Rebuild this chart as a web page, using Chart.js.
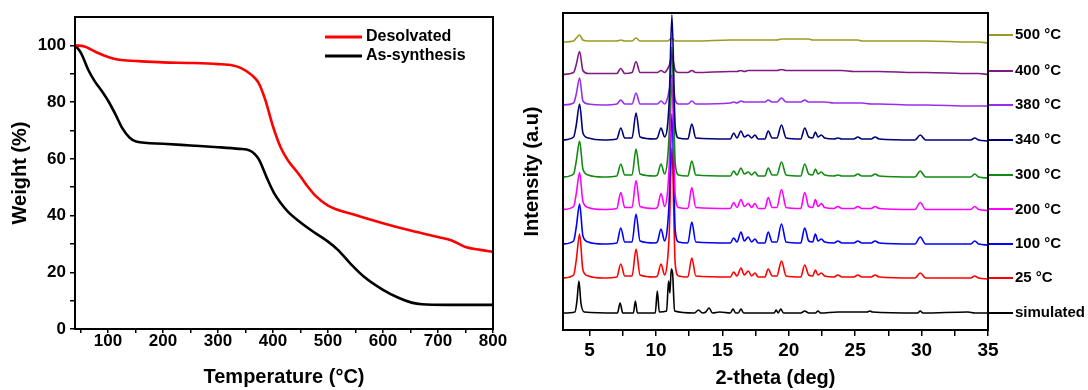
<!DOCTYPE html>
<html>
<head>
<meta charset="utf-8">
<script src="https://cdn.jsdelivr.net/npm/chart.js@4.4.1/dist/chart.umd.min.js"></script>
<style>
  html, body { margin: 0; padding: 0; background: #fff; }
  #wrap { position: relative; width: 1088px; height: 390px; }
  #tgaBox { position: absolute; left: 0; top: 0; width: 520px; height: 390px; }
  #xrdBox { position: absolute; left: 520px; top: 0; width: 568px; height: 390px; }
</style>
</head>
<body>
<div id="wrap">
  <div id="tgaBox"><canvas id="tgaChart"></canvas></div>
  <div id="xrdBox"><canvas id="xrdChart"></canvas></div>
</div>
<script>
// ---- TGA data (left panel) ----
const desolvTemp   = [40, 57, 82, 100, 120, 151, 200, 250, 300, 327, 342, 361, 374, 386, 400, 414, 427, 446, 460, 477, 500, 550, 600, 652, 700, 725, 750, 777, 800];
const desolvWeight = [100, 99.6, 97.3, 95.9, 94.9, 94.5, 94.0, 93.8, 93.4, 92.9, 92.0, 89.6, 86.7, 80.8, 71.4, 64, 59.5, 54.8, 51, 47, 43.5, 40.2, 37.3, 34.6, 32.4, 31.2, 28.9, 27.9, 27.2];
const asSynTemp    = [40, 51, 64, 76, 89, 101, 114, 126, 139, 151, 200, 250, 300, 339, 358, 374, 389, 402, 414, 427, 446, 477, 500, 518, 540, 565, 600, 627, 652, 671, 715, 800];
const asSynWeight  = [100, 97.3, 91.4, 87.3, 83.8, 80.2, 75.5, 70.8, 67.5, 66.1, 65.3, 64.7, 64.1, 63.5, 62.9, 59.9, 53.2, 47.9, 44.4, 41.4, 38.2, 33.8, 30.8, 27.9, 23.2, 18.5, 13.8, 11.1, 9.3, 8.7, 8.5, 8.5];
const tempTicks    = [50, 100, 150, 200, 250, 300, 350, 400, 450, 500, 550, 600, 650, 700, 750, 800];
const weightTicks  = [0, 10, 20, 30, 40, 50, 60, 70, 80, 90, 100];

// ---- PXRD data (right panel), listed bottom to top ----
const xrdNames   = ['simulated', '25 °C', '100 °C', '200 °C', '300 °C', '340 °C', '380 °C', '400 °C', '500 °C'];
const xrdColors  = ['#000000', '#ff0000', '#0000ff', '#ff00ff', '#108a10', '#00007a', '#9a2cf0', '#801a80', '#9a9a22'];
const xrdOffsets = [0, 35, 69, 103.5, 138, 173, 208, 242.5, 278];
const thetaTicks = [5, 7.5, 10, 12.5, 15, 17.5, 20, 22.5, 25, 27.5, 30, 32.5, 35];

const simTheta = [3.0, 3.9, 4.05, 4.2, 4.35, 4.6, 7.1, 7.3, 7.5, 8.3, 8.45, 8.6, 9.95, 10.1, 10.25, 10.8, 10.95, 11.05, 11.15, 11.25, 11.4,
  12.9, 13.2, 13.5, 13.75, 14.0, 14.25, 14.8, 15.6, 15.8, 16.0, 16.2, 16.4, 16.6, 18.9, 19.05, 19.2, 19.4, 19.6,
  20.9, 21.2, 21.5, 22.0, 22.2, 22.4, 23.7, 25.9, 26.1, 26.3, 29.7, 29.9, 30.1, 33.5, 34.0, 35.0];
const simulated = [0, 1, 12, 32, 10, 1, 0, 10, 0, 0, 12, 0, 0, 22, 1, 2, 32, 20, 44, 40, 2,
  0, 3, 0, 1, 5, 0, 1, 0, 4, 0, 0, 4, 0, 0, 3, 0, 4, 0,
  0, 2, 0, 0, 2, 0, 1, 1, 2, 1, 0, 2, 0, 1, 0, 0];

const expTheta = [3.0, 3.8, 4.0, 4.25, 4.5, 4.9, 6.0,
  7.05, 7.35, 7.65, 8.2, 8.5, 8.8,
  9.9, 10.1, 10.38, 10.65, 10.85, 11.0, 11.2, 11.45, 11.7,
  12.4, 12.7, 13.0,
  15.6, 15.85, 16.1, 16.4, 16.65, 16.95, 17.2, 17.45, 17.7,
  18.2, 18.45, 18.75, 19.1, 19.45, 19.8,
  20.9, 21.2, 21.5, 21.8, 22.0, 22.2, 22.45, 22.7,
  23.4, 23.7, 24.0, 24.9, 25.2, 25.5, 26.2, 26.5, 26.8,
  29.5, 29.9, 30.3, 33.7, 34.0, 34.3, 35.0];
const t25 = [0, 3, 18, 44, 8, 2, 0,
  1, 14, 2, 2, 29, 3,
  1, 2, 14, 3, 15, 45, 130, 14, 2,
  1, 20, 2,
  1, 6, 2, 10, 3, 7, 2, 5, 1,
  1, 9, 2, 2, 17, 2,
  1, 13, 3, 2, 8, 3, 5, 2,
  1, 3, 1, 1, 3, 1, 1, 3, 1,
  0, 5, 0, 0, 2, 0, -1];
const t100 = [0, 3, 17, 40, 8, 2, 0,
  1, 16, 2, 2, 30, 3,
  1, 2, 15, 3, 15, 45, 130, 14, 2,
  1, 22, 2,
  1, 6, 2, 12, 3, 7, 2, 5, 1,
  1, 12, 2, 2, 20, 2,
  1, 16, 3, 2, 10, 3, 5, 2,
  1, 3, 1, 1, 3, 1, 1, 3, 1,
  0, 7, 0, 0, 3, 0, -1];
const t200 = [0, 3, 16, 37, 8, 2, 0,
  1, 17, 2, 2, 29, 3,
  1, 2, 16, 3, 15, 45, 130, 14, 2,
  1, 22, 2,
  1, 7, 2, 10, 3, 6, 2, 6, 1,
  1, 12, 2, 2, 20, 2,
  1, 17, 3, 2, 10, 3, 6, 2,
  1, 3, 1, 1, 3, 1, 1, 3, 1,
  0, 7, 0, 0, 3, 0, -1];
const t300 = [-2, 1, 14, 34, 6, 0, -2,
  -1, 11, 0, 0, 26, 1,
  -1, 0, 11, 1, 13, 43, 128, 12, 0,
  -1, 14, 0,
  -1, 4, 0, 7, 1, 3, 0, 3, -1,
  -1, 7, 0, 0, 13, 0,
  -1, 11, 1, 0, 6, 1, 3, 0,
  -1, 0, -1, -1, 1, -1, -1, 1, -1,
  -2, 4, -2, -2, 1, -2, -3];
const t340 = [0, 3, 15, 36, 7, 2, 0,
  1, 12, 2, 2, 27, 3,
  1, 2, 12, 3, 12, 40, 125, 13, 2,
  1, 16, 2,
  1, 7, 2, 9, 3, 5, 2, 5, 1,
  1, 9, 2, 2, 15, 2,
  1, 12, 3, 2, 8, 3, 5, 2,
  1, 2, 1, 1, 3, 1, 1, 3, 1,
  0, 5, 0, 0, 2, 0, -1];
const t380 = [0, 2, 11, 27, 4, 1, 0,
  1, 5, 1, 1, 12, 1,
  1, 1, 4, 1, 6, 15, 30, 5, 1,
  1, 4, 1,
  2, 3, 2, 4, 3, 3, 3, 3, 3,
  3, 5, 3, 3, 7, 3,
  3, 5, 3, 3, 3, 3, 3, 3,
  2, 2, 2, 2, 2, 2, 1, 1, 1,
  0, 0, 0, -1, -1, -1, -1];
const t400 = [-4, -2, 6, 19, 0, -3, -3,
  -3, 2, -3, -2, 9, -2,
  -2, -2, 0, -2, 1, 5, 15, 0, -2,
  -2, 0, -2,
  -1, -1, -1, 0, -1, 0, 0, 0, 0,
  0, 0, 0, 0, 1, 0,
  0, 0, 0, 0, 0, 0, 0, 0,
  0, 0, 0, -1, -1, -1, -1, -1, -1,
  -2, -2, -2, -3, -3, -3, -4];
const t500 = [-7, -6, -3, 0, -5, -6, -6,
  -6, -5, -6, -6, -3, -6,
  -6, -6, -6, -6, -6, -5, -3, -6, -6,
  -6, -6, -6,
  -5, -5, -5, -5, -5, -5, -5, -5, -5,
  -5, -5, -5, -5, -4, -4,
  -4, -4, -4, -5, -5, -5, -5, -5,
  -5, -5, -5, -5, -5, -6, -6, -6, -6,
  -6, -6, -6, -7, -7, -7, -8];
const xrdValues = [simulated, t25, t100, t200, t300, t340, t380, t400, t500];

Chart.defaults.font.family = '"Liberation Sans", Arial, sans-serif';
Chart.defaults.font.weight = 'bold';
Chart.defaults.color = '#000';

// khung chữ nhật quanh vùng vẽ
const framePlugin = {
  id: 'frame',
  afterDraw(chart) {
    const { ctx, chartArea: a } = chart;
    ctx.save();
    ctx.strokeStyle = '#000';
    ctx.lineWidth = 2;
    ctx.strokeRect(a.left, a.top, a.right - a.left, a.bottom - a.top);
    ctx.restore();
  }
};

// chú thích nằm trong vùng vẽ (góc trên phải)
const tgaLegend = {
  id: 'tgaLegend',
  afterDatasetsDraw(chart) {
    const ctx = chart.ctx;
    chart.data.datasets.forEach((ds, i) => {
      const y = 37 + i * 19;
      ctx.save();
      ctx.strokeStyle = ds.borderColor;
      ctx.lineWidth = 3;
      ctx.beginPath();
      ctx.moveTo(325, y);
      ctx.lineTo(362, y);
      ctx.stroke();
      ctx.fillStyle = '#000';
      ctx.font = 'bold 16px "Liberation Sans", Arial, sans-serif';
      ctx.textBaseline = 'middle';
      ctx.fillText(ds.label, 366, y);
      ctx.restore();
    });
  }
};

function toPoints(xs, ys, shift) {
  return xs.map((x, i) => ({ x: x, y: ys[i] + (shift || 0) }));
}

function tickAxis(size) {
  return { font: { size: size, weight: 'bold' }, color: '#000', autoSkip: false, maxRotation: 0 };
}

// ---- biểu đồ TGA ----
new Chart(document.getElementById('tgaChart'), {
  type: 'line',
  data: {
    datasets: [
      { label: 'Desolvated', data: toPoints(desolvTemp, desolvWeight), borderColor: '#ff0000', borderWidth: 2.6, pointRadius: 0, cubicInterpolationMode: 'monotone' },
      { label: 'As-synthesis', data: toPoints(asSynTemp, asSynWeight), borderColor: '#000000', borderWidth: 2.6, pointRadius: 0, cubicInterpolationMode: 'monotone' }
    ]
  },
  options: {
    responsive: true,
    maintainAspectRatio: false,
    animation: false,
    layout: { padding: { top: 17, right: 27, left: 0, bottom: 0 } },
    plugins: { legend: { display: false }, tooltip: { enabled: false } },
    scales: {
      x: {
        type: 'linear', min: 40, max: 800,
        afterBuildTicks: s => { s.ticks = tempTicks.map(v => ({ value: v })); },
        ticks: Object.assign(tickAxis(17), { padding: -2, callback: v => (v % 100 === 0 ? v : '') }),
        grid: { drawOnChartArea: false, tickLength: 4, color: '#000', lineWidth: 1.5 },
        border: { color: '#000', width: 2 },
        title: { display: true, text: 'Temperature (°C)', font: { size: 20, weight: 'bold' }, color: '#000', padding: { top: 0, bottom: 1 } },
        afterFit: s => { s.height = 61; }
      },
      y: {
        min: 0, max: 110,
        afterBuildTicks: s => { s.ticks = weightTicks.map(v => ({ value: v })); },
        ticks: Object.assign(tickAxis(17), { padding: 4, callback: v => (v % 20 === 0 ? v : '') }),
        grid: { drawOnChartArea: false, tickLength: 5, color: '#000', lineWidth: 1.5 },
        border: { color: '#000', width: 2 },
        title: { display: true, text: 'Weight (%)', font: { size: 20, weight: 'bold' }, color: '#000', padding: { top: 8, bottom: 0 } },
        afterFit: s => { s.width = 75; }
      }
    }
  },
  plugins: [framePlugin, tgaLegend]
});

// ---- biểu đồ PXRD ----
const xrdDatasets = xrdNames.map((name, i) => ({
  label: name,
  data: i === 0 ? toPoints(simTheta, simulated, xrdOffsets[0]) : toPoints(expTheta, xrdValues[i], xrdOffsets[i]),
  borderColor: xrdColors[i],
  borderWidth: 1.6,
  pointRadius: 0,
  cubicInterpolationMode: 'monotone',
  order: name === '340 °C' ? 0 : 1
})).reverse();

new Chart(document.getElementById('xrdChart'), {
  type: 'line',
  data: { datasets: xrdDatasets },
  options: {
    responsive: true,
    maintainAspectRatio: false,
    animation: false,
    layout: { padding: { top: 13, right: 0, left: 0, bottom: 0 } },
    plugins: { legend: { display: false }, tooltip: { enabled: false } },
    scales: {
      x: {
        type: 'linear', min: 3, max: 35,
        afterBuildTicks: s => { s.ticks = thetaTicks.map(v => ({ value: v })); },
        ticks: Object.assign(tickAxis(19), { padding: 3, callback: v => (v % 5 === 0 ? v : '') }),
        grid: { drawOnChartArea: false, tickLength: 6, color: '#000', lineWidth: 1.5 },
        border: { color: '#000', width: 2 },
        title: { display: true, text: '2-theta (deg)', font: { size: 20, weight: 'bold' }, color: '#000', padding: { top: 0, bottom: 0 } },
        afterFit: s => { s.height = 60; }
      },
      y: {
        min: -17, max: 300,
        ticks: { display: false },
        grid: { drawOnChartArea: false, drawTicks: false },
        border: { color: '#000', width: 2 },
        title: { display: true, text: 'Intensity (a.u)', font: { size: 20, weight: 'bold' }, color: '#000', padding: { top: 0, bottom: 0 } },
        afterFit: s => { s.width = 43; }
      },
      yr: {
        position: 'right', min: -17, max: 300,
        afterBuildTicks: s => { s.ticks = xrdOffsets.map(v => ({ value: v })); },
        ticks: Object.assign(tickAxis(15), { padding: 2, callback: (v, i) => xrdNames[i] }),
        grid: { drawOnChartArea: false, tickLength: 25, lineWidth: 2, color: ctx => xrdColors[ctx.index] || '#000' },
        border: { color: '#000', width: 2 },
        afterFit: s => { s.width = 100; }
      }
    }
  },
  plugins: [framePlugin]
});
</script>
</body>
</html>
